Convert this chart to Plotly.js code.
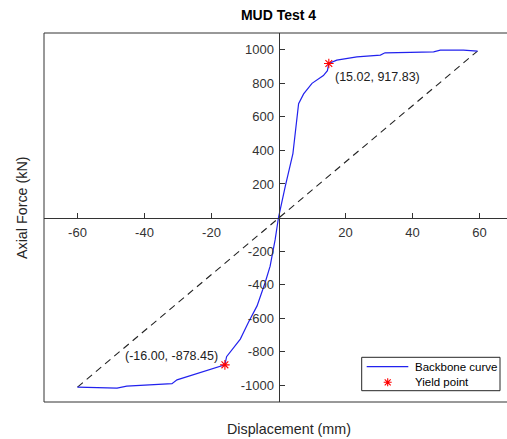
<!DOCTYPE html>
<html>
<head>
<meta charset="utf-8">
<script src="https://cdn.plot.ly/plotly-3.0.1.min.js"></script>
<style>
html, body { margin:0; padding:0; overflow:hidden; background:#fff; }
#chart { width:520px; height:439px; }
</style>
</head>
<body>
<div id="chart"></div>
<script>
// Backbone curve: negative branch (from -60 mm up to origin)
var dispNeg  = [-60.0, -54.2, -48.2, -45.3, -39.3, -31.8, -30.3, -29.3, -24.4, -20.4, -16.0, -15.5, -13.9, -11.4, -9.0, -6.4, -4.0, -2.5, -1.0, 0];
var forceNeg = [-1011, -1015, -1017, -1005, -999, -991, -968, -962, -932, -908, -878.45, -830, -790, -725, -626, -527, -389, -290, -132, 0];
// Backbone curve: positive branch (origin out to +60 mm)
var dispPos  = [2.0, 4.3, 6.0, 7.5, 10.0, 13.4, 14.6, 15.02, 17.4, 23.4, 30.4, 31.8, 39.3, 46.3, 48.3, 55.2, 59.4];
var forcePos = [184, 381, 678, 737, 800, 846, 875, 917.83, 938, 958, 968, 982, 984, 988, 998, 998, 992];
// Yield points
var yieldDisp  = [15.02, -16.00];
var yieldForce = [917.83, -878.45];
var yieldLabels = ['(15.02, 917.83)', '(-16.00, -878.45)'];
// Reference (secant) line end points
var refDisp  = [-60.0, 59.4];
var refForce = [-1011, 992];
// Axis ticks
var xTicks = [-60, -40, -20, 20, 40, 60];
var yTicks = [-1000, -800, -600, -400, -200, 200, 400, 600, 800, 1000];
// Legend entries
var legendNames = ['Backbone curve', 'Yield point'];

var backboneX = dispNeg.concat(dispPos);
var backboneY = forceNeg.concat(forcePos);

var BLUE = '#2222ee', RED = '#ff0000', AXC = '#333333';
var FONT = 'Liberation Sans, Arial, sans-serif';

// plot area in pixels
var W = 520, H = 439, ML = 44, MR = 7, MT = 33, MB = 37;
var PW = W - ML - MR, PH = H - MT - MB;
function px2x(px) { return (px - ML) / PW; }
function py2y(py) { return (H - MB - py) / PH; }

var traces = [
  {
    x: refDisp, y: refForce, mode: 'lines', type: 'scatter',
    line: {color: '#222222', width: 1.1, dash: '7px,5px'},
    showlegend: false, hoverinfo: 'skip'
  },
  {
    x: backboneX, y: backboneY, mode: 'lines', type: 'scatter',
    name: legendNames[0], showlegend: false,
    line: {color: BLUE, width: 1.2}
  },
  {
    x: yieldDisp, y: yieldForce, mode: 'markers', type: 'scatter',
    name: legendNames[1], showlegend: false,
    marker: {symbol: 'asterisk-open', size: 8, color: RED, line: {color: RED, width: 1.1}}
  }
];

var tickFont = {family: FONT, size: 13, color: AXC};

var shapes = [
  // box: left, top, bottom (right edge falls outside the window)
  {type: 'line', xref: 'paper', yref: 'paper', x0: 0, x1: 0, y0: 0, y1: 1, line: {color: AXC, width: 1}},
  {type: 'line', xref: 'paper', yref: 'paper', x0: 0, x1: 1, y0: 1, y1: 1, line: {color: AXC, width: 1}},
  {type: 'line', xref: 'paper', yref: 'paper', x0: 0, x1: 1, y0: 0, y1: 0, line: {color: AXC, width: 1}},
  // legend box
  {type: 'rect', xref: 'paper', yref: 'paper', x0: px2x(361.7), x1: px2x(500), y0: py2y(390.7), y1: py2y(357.3),
   line: {color: '#262626', width: 1}, fillcolor: '#ffffff', layer: 'above'},
  // legend line sample
  {type: 'line', xref: 'paper', yref: 'paper', x0: px2x(366.7), x1: px2x(408.3), y0: py2y(366.7), y1: py2y(366.7),
   line: {color: BLUE, width: 1.2}, layer: 'above'},
  // legend asterisk sample
  {type: 'path', xref: 'paper', yref: 'paper', xsizemode: 'pixel', ysizemode: 'pixel',
   xanchor: px2x(387.7), yanchor: py2y(382.3),
   path: 'M-4,0L4,0M0,-4L0,4M-3,-3L3,3M-3,3L3,-3',
   line: {color: RED, width: 1.1}, layer: 'above'}
];

var layout = {
  width: W, height: H,
  margin: {l: ML, r: MR, t: MT, b: MB},
  paper_bgcolor: '#ffffff', plot_bgcolor: '#ffffff',
  showlegend: false,
  title: {
    text: '<b>MUD Test 4</b>',
    font: {family: FONT, size: 14, color: '#000000'},
    xref: 'paper', x: 0.5, xanchor: 'center',
    yref: 'container', y: 1 - 15 / H, yanchor: 'middle'
  },
  xaxis: {
    range: [-70, 70], anchor: 'free', position: 0.5,
    tickvals: xTicks, ticktext: xTicks.map(String),
    ticks: 'inside', ticklen: 5, tickwidth: 1, tickcolor: AXC,
    showline: true, linecolor: AXC, linewidth: 1,
    showgrid: false, zeroline: false, tickfont: tickFont,
    ticklabelstandoff: 3
  },
  yaxis: {
    range: [-1100, 1100], anchor: 'free', position: 0.5,
    tickvals: yTicks, ticktext: yTicks.map(String),
    ticks: 'inside', ticklen: 5, tickwidth: 1, tickcolor: AXC,
    showline: true, linecolor: AXC, linewidth: 1,
    showgrid: false, zeroline: false, tickfont: tickFont,
    ticklabelstandoff: 2
  },
  shapes: shapes,
  annotations: [
    {x: yieldDisp[0], y: yieldForce[0], xref: 'x', yref: 'y', text: yieldLabels[0],
     showarrow: false, xanchor: 'left', yanchor: 'middle', xshift: 4, yshift: -13,
     font: {family: FONT, size: 12.5, color: '#222222'}},
    {x: yieldDisp[1], y: yieldForce[1], xref: 'x', yref: 'y', text: yieldLabels[1],
     showarrow: false, xanchor: 'right', yanchor: 'middle', xshift: -5, yshift: 9,
     font: {family: FONT, size: 12.5, color: '#222222'}},
    {x: px2x(289), y: py2y(429), xref: 'paper', yref: 'paper', text: 'Displacement (mm)',
     showarrow: false, xanchor: 'center', yanchor: 'middle',
     font: {family: FONT, size: 14.3, color: '#262626'}},
    {x: px2x(22), y: py2y(208), xref: 'paper', yref: 'paper', text: 'Axial Force (kN)', textangle: -90,
     showarrow: false, xanchor: 'center', yanchor: 'middle',
     font: {family: FONT, size: 14.3, color: '#262626'}},
    // legend labels
    {x: px2x(412.7), y: py2y(366.7), xref: 'paper', yref: 'paper', text: legendNames[0],
     showarrow: false, xanchor: 'left', yanchor: 'middle',
     font: {family: FONT, size: 11.5, color: '#000000'}},
    {x: px2x(412.7), y: py2y(382.3), xref: 'paper', yref: 'paper', text: legendNames[1],
     showarrow: false, xanchor: 'left', yanchor: 'middle',
     font: {family: FONT, size: 11.5, color: '#000000'}}
  ]
};

Plotly.newPlot('chart', traces, layout, {displayModeBar: false, staticPlot: true});
</script>
</body>
</html>
